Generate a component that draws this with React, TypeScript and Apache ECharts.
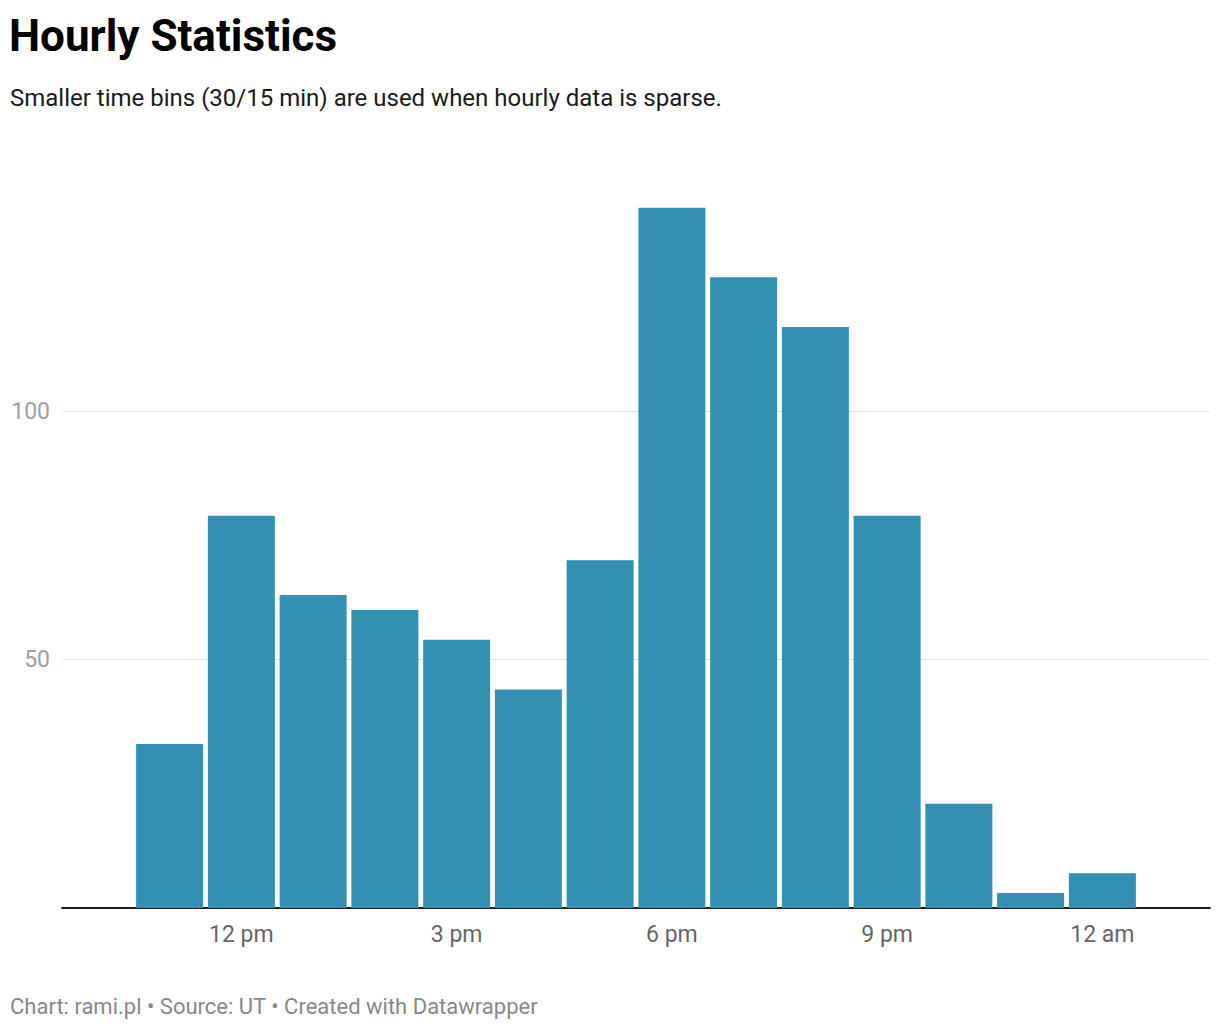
import React, { useEffect, useRef } from "react";
import * as echarts from "echarts";

const categories = ["10 am", "11 am", "12 pm", "1 pm", "2 pm", "3 pm", "4 pm", "5 pm", "6 pm", "7 pm", "8 pm", "9 pm", "10 pm", "11 pm", "12 am", "1 am"];
const values: (number | null)[] = [null, 33, 79, 63, 60, 54, 44, 70, 141, 127, 117, 79, 21, 3, 7, null];
const shownLabels = ["12 pm", "3 pm", "6 pm", "9 pm", "12 am"];
const yTicks = { min: 0, max: 150, interval: 50 };

const FONT = "Roboto, 'Noto Sans', sans-serif";

export default function App() {
  const ref = useRef<HTMLDivElement>(null);
  useEffect(() => {
    document.body.style.margin = "0";
    const chart = echarts.init(ref.current!, undefined, { renderer: "svg" });
    chart.setOption({
      animation: false,
      backgroundColor: "#ffffff",
      textStyle: { fontFamily: FONT },
      title: [
        {
          text: "Hourly Statistics",
          left: 9,
          top: 14,
          padding: 0,
          textStyle: { fontFamily: FONT, fontSize: 44, fontWeight: "bold", color: "#000000" },
        },
        {
          text: "Smaller time bins (30/15 min) are used when hourly data is sparse.",
          left: 10,
          top: 86,
          padding: 0,
          textStyle: { fontFamily: FONT, fontSize: 24, fontWeight: "normal", color: "#1a1a1a" },
        },
        {
          text: "Chart: rami.pl • Source: UT • Created with Datawrapper",
          left: 10,
          top: 995,
          padding: 0,
          textStyle: { fontFamily: FONT, fontSize: 22, fontWeight: "normal", color: "#888888" },
        },
      ],
      grid: { left: 62, right: 10, top: 163, bottom: 122, containLabel: false },
      xAxis: {
        type: "category",
        data: categories,
        axisLine: { show: true, lineStyle: { color: "#1d1d1d", width: 2 } },
        axisTick: { show: false },
        axisLabel: {
          interval: (_i: number, v: string) => shownLabels.includes(v),
          color: "#666666",
          fontSize: 23,
          fontFamily: FONT,
          margin: 15,
        },
      },
      yAxis: {
        type: "value",
        min: yTicks.min,
        max: yTicks.max,
        interval: yTicks.interval,
        axisLine: { show: false },
        axisTick: { show: false },
        axisLabel: {
          showMinLabel: false,
          showMaxLabel: false,
          color: "#a0a0a0",
          fontSize: 23,
          fontFamily: FONT,
          margin: 12,
        },
        splitLine: { show: true, showMinLine: false, showMaxLine: false, lineStyle: { color: "#e3e3e3", width: 1 } },
      },
      series: [
        {
          type: "bar",
          data: values,
          barWidth: 67,
          itemStyle: { color: "#3390b3" },
        },
      ],
    });
    return () => chart.dispose();
  }, []);
  return <div ref={ref} style={{ width: 1220, height: 1030 }} />;
}
